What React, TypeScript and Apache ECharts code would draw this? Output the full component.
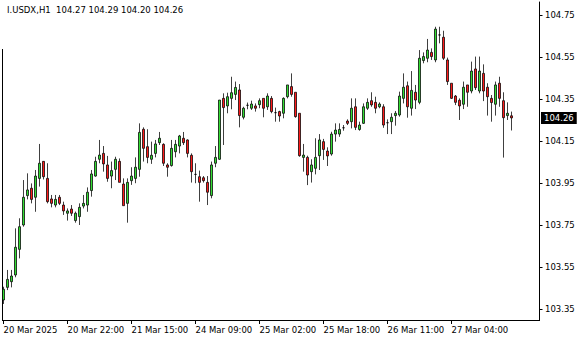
import React, { useEffect, useRef } from "react";
import * as echarts from "echarts";

const symbol = "I.USDX";
const timeframe = "H1";

const opens = [
  103.393, 103.453, 103.48, 103.512, 103.634, 103.75, 103.89, 103.925, 103.882, 103.972,
  104.053, 103.972, 103.874, 103.845, 103.882, 103.845, 103.806, 103.826, 103.771, 103.79,
  103.84, 103.845, 103.914, 103.983, 104.063, 104.091, 104.036, 103.983, 104.015, 104.053,
  103.945, 103.853, 103.961, 103.972, 104.015, 104.206, 104.123, 104.063, 104.091, 104.142,
  104.134, 104.036, 104.033, 104.099, 104.126, 104.163, 104.155, 104.082, 103.991, 103.98,
  103.975, 103.953, 103.89, 104.044, 104.063, 104.353, 104.317, 104.353, 104.372, 104.393,
  104.263, 104.32, 104.306, 104.317, 104.323, 104.353, 104.313, 104.353, 104.285, 104.29,
  104.282, 104.361, 104.409, 104.382, 104.282, 104.072, 104.072, 104.004, 104.02, 104.08,
  104.147, 104.102, 104.088, 104.183, 104.183, 104.213, 104.245, 104.242, 104.313, 104.205,
  104.234, 104.306, 104.342, 104.334, 104.313, 104.313, 104.237, 104.242, 104.271, 104.274,
  104.353, 104.413, 104.306, 104.382, 104.334, 104.533, 104.544, 104.572, 104.536, 104.655,
  104.644, 104.536, 104.425, 104.364, 104.344, 104.325, 104.417, 104.388, 104.493, 104.388,
  104.472, 104.406, 104.353, 104.325, 104.425, 104.342, 104.271, 104.27,
];
const highs = [
  103.456, 103.536, 103.536, 103.734, 103.782, 103.964, 103.996, 103.948, 104.012, 104.136,
  104.054, 104.044, 103.893, 103.893, 103.893, 103.861, 103.829, 103.845, 103.814, 103.853,
  103.893, 103.929, 104.012, 104.075, 104.155, 104.126, 104.079, 104.052, 104.075, 104.067,
  103.972, 103.972, 104.025, 104.072, 104.234, 104.215, 104.206, 104.147, 104.155, 104.193,
  104.139, 104.044, 104.155, 104.155, 104.179, 104.193, 104.158, 104.091, 104.044, 104.009,
  103.983, 103.983, 104.052, 104.126, 104.345, 104.377, 104.38, 104.456, 104.433, 104.421,
  104.313, 104.333, 104.342, 104.329, 104.353, 104.353, 104.377, 104.364, 104.309, 104.294,
  104.358, 104.417, 104.472, 104.382, 104.282, 104.136, 104.08, 104.063, 104.163, 104.183,
  104.16, 104.12, 104.194, 104.234, 104.234, 104.226, 104.253, 104.353, 104.353, 104.242,
  104.329, 104.353, 104.382, 104.361, 104.334, 104.325, 104.253, 104.282, 104.293, 104.385,
  104.472, 104.433, 104.483, 104.417, 104.583, 104.572, 104.636, 104.591, 104.694, 104.694,
  104.675, 104.547, 104.425, 104.369, 104.353, 104.433, 104.417, 104.528, 104.552, 104.552,
  104.515, 104.425, 104.369, 104.433, 104.456, 104.382, 104.334, 104.29,
];
const lows = [
  103.374, 103.44, 103.453, 103.501, 103.591, 103.742, 103.872, 103.853, 103.813, 103.933,
  103.967, 103.853, 103.834, 103.834, 103.845, 103.798, 103.771, 103.793, 103.761, 103.75,
  103.829, 103.813, 103.885, 103.98, 104.044, 104.004, 103.956, 103.925, 103.964, 103.953,
  103.842, 103.761, 103.941, 103.949, 103.98, 104.052, 104.044, 104.041, 104.072, 104.131,
  104.031, 103.98, 104.028, 104.072, 104.091, 104.131, 104.072, 103.952, 103.949, 103.861,
  103.952, 103.845, 103.877, 104.025, 104.06, 104.131, 104.282, 104.301, 104.345, 104.215,
  104.253, 104.301, 104.298, 104.29, 104.306, 104.263, 104.298, 104.282, 104.242, 104.242,
  104.258, 104.353, 104.361, 104.261, 104.075, 104.004, 103.94, 103.952, 103.991, 104.012,
  104.06, 104.031, 104.08, 104.147, 104.17, 104.199, 104.226, 104.21, 104.202, 104.199,
  104.231, 104.298, 104.313, 104.282, 104.306, 104.213, 104.183, 104.183, 104.223, 104.266,
  104.329, 104.261, 104.271, 104.302, 104.325, 104.52, 104.525, 104.536, 104.525, 104.615,
  104.536, 104.417, 104.35, 104.321, 104.25, 104.302, 104.313, 104.377, 104.393, 104.377,
  104.34, 104.271, 104.242, 104.271, 104.313, 104.071, 104.25, 104.2,
];
const closes = [
  103.444, 103.491, 103.507, 103.644, 103.742, 103.882, 103.917, 103.872, 103.983, 104.044,
  103.98, 103.861, 103.853, 103.872, 103.853, 103.817, 103.817, 103.806, 103.806, 103.834,
  103.853, 103.906, 103.993, 104.053, 104.083, 104.041, 103.972, 104.009, 104.063, 103.953,
  103.842, 103.953, 103.983, 104.025, 104.191, 104.115, 104.072, 104.082, 104.136, 104.163,
  104.044, 104.025, 104.115, 104.134, 104.174, 104.142, 104.091, 104.004, 103.991, 103.953,
  103.961, 103.906, 104.036, 104.072, 104.345, 104.309, 104.361, 104.38, 104.405, 104.271,
  104.306, 104.32, 104.326, 104.306, 104.342, 104.306, 104.364, 104.29, 104.285, 104.269,
  104.353, 104.417, 104.372, 104.266, 104.08, 104.083, 103.988, 104.036, 104.072, 104.155,
  104.11, 104.079, 104.183, 104.202, 104.205, 104.213, 104.234, 104.306, 104.215, 104.226,
  104.313, 104.334, 104.322, 104.306, 104.326, 104.226, 104.237, 104.263, 104.282, 104.364,
  104.406, 104.313, 104.391, 104.345, 104.544, 104.552, 104.583, 104.552, 104.683, 104.655,
  104.544, 104.433, 104.353, 104.334, 104.317, 104.406, 104.382, 104.483, 104.404, 104.483,
  104.388, 104.361, 104.333, 104.417, 104.353, 104.261, 104.282, 104.26,
];

const timeTickIndex = [0, 16, 32, 48, 64, 80, 96, 112];
const timeTickLabels = [
  "20 Mar 2025",
  "20 Mar 22:00",
  "21 Mar 15:00",
  "24 Mar 09:00",
  "25 Mar 02:00",
  "25 Mar 18:00",
  "26 Mar 11:00",
  "27 Mar 04:00",
];
const priceTicks = [103.35, 103.55, 103.75, 103.95, 104.15, 104.35, 104.55, 104.75];
const rightShiftSlots = 6;

const FONT = "DejaVu Sans";
const FS = 8.5;

export default function App() {
  const ref = useRef<HTMLDivElement>(null);

  useEffect(() => {
    if (!ref.current) return;
    const chart = echarts.init(ref.current, null, { renderer: "svg" });
    const n = opens.length;
    const total = n + rightShiftSlots;
    const categories = Array.from({ length: total }, (_, i) => String(i));
    const labelMap: Record<number, string> = {};
    timeTickIndex.forEach((idx, k) => (labelMap[idx] = timeTickLabels[k]));
    const showAt = (idx: number) => labelMap[idx] !== undefined;
    const candles = opens.map((o, i) => [o, closes[i], lows[i], highs[i]]);
    const last = n - 1;
    const fmt = (v: number) => v.toFixed(2);
    const title = `${symbol},${timeframe}  ${fmt(opens[last])} ${fmt(highs[last])} ${fmt(lows[last])} ${fmt(closes[last])}`;

    chart.setOption({
      animation: false,
      backgroundColor: "#ffffff",
      grid: { left: 1.5, right: 42.5, top: 2, bottom: 20, containLabel: false },
      xAxis: {
        type: "category",
        data: categories,
        boundaryGap: true,
        axisLine: { show: false },
        axisTick: {
          show: true,
          alignWithLabel: true,
          interval: (idx: number) => showAt(idx),
          length: 4,
          lineStyle: { color: "#000", width: 1 },
        },
        axisLabel: {
          show: true,
          interval: (idx: number) => showAt(idx),
          formatter: (_v: string, idx: number) => labelMap[idx] ?? "",
          align: "left",
          margin: 5,
          color: "#000",
          fontFamily: FONT,
          fontSize: FS,
          hideOverlap: false,
        },
        splitLine: { show: false },
      },
      yAxis: {
        type: "value",
        position: "right",
        offset: 2,
        min: 103.2976,
        max: 104.8119,
        scale: true,
        axisLine: { show: true, lineStyle: { color: "#000", width: 1 } },
        axisTick: {
          show: true,
          length: 3,
          customValues: priceTicks,
          lineStyle: { color: "#000", width: 1 },
        },
        axisLabel: {
          show: true,
          customValues: priceTicks,
          formatter: (v: number) => v.toFixed(2),
          margin: 5.5,
          color: "#000",
          fontFamily: FONT,
          fontSize: FS,
        },
        splitLine: { show: false },
      },
      series: [
        {
          type: "candlestick",
          data: candles,
          barWidth: 3,
          itemStyle: {
            color: "#33DD33",
            color0: "#FF1A1A",
            borderColor: "#000",
            borderColor0: "#000",
            borderColorDoji: "#000",
            borderWidth: 0.75,
          },
          markLine: {
            silent: true,
            symbol: ["none", "none"],
            lineStyle: { color: "rgba(0,0,0,0)", width: 0 },
            data: [{ yAxis: closes[last] }],
            label: {
              show: true,
              position: "end",
              distance: 3.5,
              formatter: () => fmt(closes[last]),
              backgroundColor: "#000",
              color: "#fff",
              padding: [2, 3, 1, 3],
              fontFamily: FONT,
              fontSize: FS,
            },
          },
        },
      ],
      graphic: [
        {
          type: "line",
          shape: { x1: 2.5, y1: 49, x2: 2.5, y2: 320.5 },
          style: { stroke: "#000", lineWidth: 1 },
          silent: true,
        },
        {
          type: "line",
          shape: { x1: 2, y1: 320.5, x2: 540, y2: 320.5 },
          style: { stroke: "#000", lineWidth: 1 },
          silent: true,
        },
        {
          type: "text",
          left: 7,
          top: 5,
          style: { text: title, fill: "#000", fontFamily: FONT, fontSize: FS },
          silent: true,
        },
      ],
    });
    return () => chart.dispose();
  }, []);

  return (
    <div
      ref={ref}
      style={{ position: "fixed", left: 0, top: 0, width: 580, height: 340, background: "#fff" }}
    />
  );
}
